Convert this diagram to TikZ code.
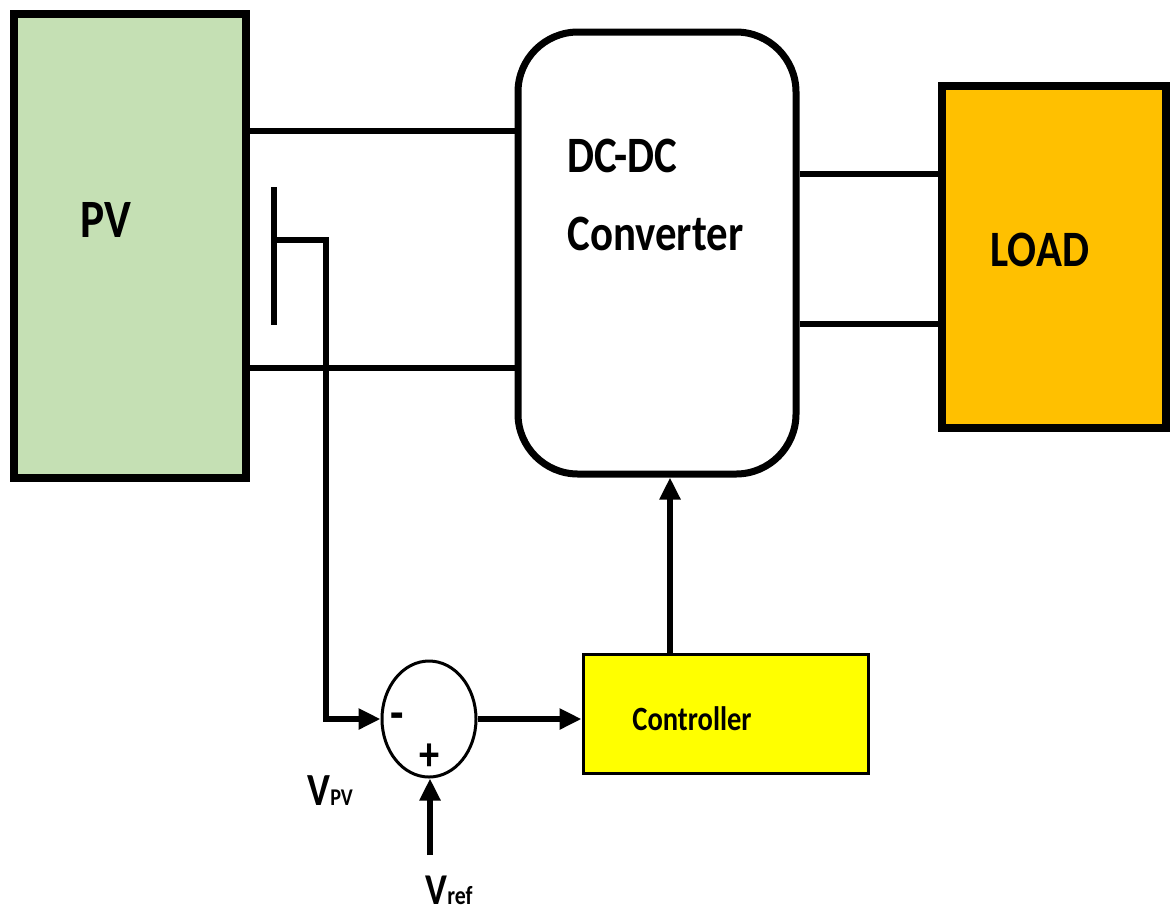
\documentclass[tikz,border=0pt]{standalone}
\usepackage{fontspec}
\setmainfont{Carlito}[FakeStretch=0.84]
\usetikzlibrary{arrows.meta, shapes.geometric}
\definecolor{pvgreen}{RGB}{197, 224, 180}
\definecolor{loadorange}{RGB}{255, 192, 0}
\definecolor{ctrlyellow}{RGB}{255, 255, 0}

\begin{document}
\begin{tikzpicture}[x=0.5pt, y=-0.5pt, >={Triangle[length=11pt, width=10pt]}, font=\bfseries,
  block/.style={draw, line width=4pt, inner sep=0pt},
  wire/.style={line width=3pt},
  sig/.style={line width=3pt, ->},
  lbl/.style={anchor=base west, inner sep=0pt}]
  \useasboundingbox (0,0) rectangle (1171,917);

  % Blocks
  \node[block, fill=pvgreen, minimum width=116pt, minimum height=232pt] (pv) at (130,246) {};
  \node[block, line width=3.5pt, rounded corners=30pt, minimum width=139pt, minimum height=221pt] (conv) at (657,253) {};
  \node[block, fill=loadorange, minimum width=112pt, minimum height=171pt] (load) at (1054,257) {};
  \node[block, line width=1.5pt, fill=ctrlyellow, minimum width=142.5pt, minimum height=59.5pt] (ctrl) at (725.5,713.5) {};
  \node[ellipse, draw, line width=1.5pt, minimum width=47pt, minimum height=58pt, inner sep=0pt] (sum) at (429,719) {};

  % Texts
  \node[lbl, font=\bfseries\fontsize{27}{27}\selectfont] (pvtext) at (80,237) {PV};
  \node[lbl, font=\bfseries\fontsize{25.5}{25.5}\selectfont] (convtop) at (567,172) {DC-DC};
  \node[lbl, font=\bfseries\fontsize{25.5}{25.5}\selectfont] (convbot) at (567,250) {Converter};
  \node[lbl, font=\bfseries\fontsize{25.5}{25.5}\selectfont] (loadtext) at (990,266) {LOAD};
  \node[lbl, font=\bfseries\fontsize{17}{17}\selectfont] (ctrltext) at (632,730) {Controller};
  \node[font=\bfseries\fontsize{26}{26}\selectfont, inner sep=0pt] (minus) at (397,722) {-};
  \node[font=\bfseries\fontsize{24}{24}\selectfont, inner sep=0pt] (plus) at (430,757) {+};
  \node[lbl, font=\bfseries\fontsize{23}{23}\selectfont] (vpv) at (307,805) {V{\fontsize{12}{12}\selectfont PV}};
  \node[lbl, font=\bfseries\fontsize{22}{22}\selectfont] (vref) at (425,904) {V{\fontsize{13}{13}\selectfont ref}};

  % Power wires
  \draw[wire] (pv.east |- 0,131) -- (conv.west |- 0,131);
  \draw[wire] (pv.east |- 0,368) -- (conv.west |- 0,368);
  \draw[wire] (conv.east |- 0,174) -- (load.west |- 0,174);
  \draw[wire] (conv.east |- 0,324) -- (load.west |- 0,324);

  % Voltage sensing
  \coordinate (stop) at (274,187);
  \coordinate (sbot) at (274,325);
  \coordinate (stap) at (274,240);
  \coordinate (sbend) at (326,240);
  \draw[wire] (stop) -- (sbot);
  \draw[sig] (stap) -- (sbend) -- (sbend |- sum.west) -- (sum.west);

  % Signals
  \coordinate (vrefin) at (430,855);
  \draw[sig] (vrefin) -- (vrefin |- sum.south);
  \draw[sig] (sum.east) -- (ctrl.west |- sum.east);
  \draw[sig] (670,0 |- ctrl.north) -- (670,0 |- conv.south);
\end{tikzpicture}
\end{document}
